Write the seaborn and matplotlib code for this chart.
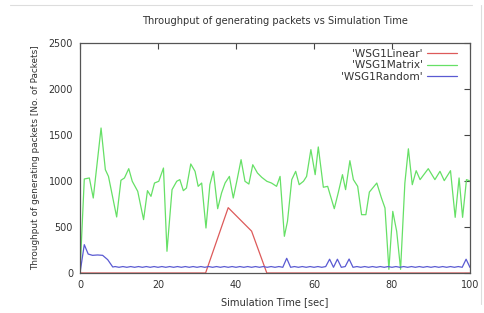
import numpy as np
import pandas as pd
import matplotlib
matplotlib.use("Agg")
import matplotlib.pyplot as plt
import seaborn as sns
from matplotlib.lines import Line2D

title = "Throughput of generating packets vs Simulation Time"
xlabel = "Simulation Time [sec]"
ylabel = "Throughput of generating packets [No. of Packets]"
xticks = [0, 20, 40, 60, 80, 100]
yticks = [0, 500, 1000, 1500, 2000, 2500]

linear_t = [0, 32.2, 38.0, 44.0, 47.9, 100]
linear_v = [0, 0, 710, 455, 0, 0]

matrix_t = [0, 1.1, 2.4, 3.4, 5.4, 6.5, 7.3, 9.4, 10.5, 11.4, 12.5, 13.4, 14.8, 16.3,
            17.3, 18.2, 19.1, 20.2, 21.4, 22.3, 23.6, 24.8, 25.6, 26.5, 27.3, 28.4,
            29.5, 30.3, 31.2, 32.3, 33.3, 34.2, 35.3, 36.3, 37.2, 38.3, 39.3, 40.2,
            41.3, 42.3, 43.3, 44.3, 45.5, 46.6, 47.9, 49.1, 50.4, 51.3, 52.4, 53.2,
            54.3, 55.3, 56.2, 57.3, 58.1, 59.2, 60.3, 61.1, 62.4, 63.5, 65.2, 66.2,
            67.3, 68.1, 69.2, 70.1, 71.2, 72.2, 73.3, 74.2, 76.1, 77.3, 78.2, 79.2,
            80.2, 81.2, 82.2, 83.3, 84.2, 85.2, 86.2, 87.2, 89.3, 91.0, 92.3, 93.4,
            95.0, 96.2, 97.2, 98.1, 99.1, 100]
matrix_v = [0, 1022, 1033, 815, 1576, 1123, 1050, 609, 1008, 1033, 1134, 997, 888, 580,
            895, 833, 978, 997, 1141, 236, 906, 997, 1015, 895, 924, 1185,
            1105, 942, 978, 489, 960, 1105, 699, 870, 978, 1050, 815, 997,
            1232, 997, 967, 1177, 1087, 1040, 997, 978, 942, 1050, 399, 562,
            1015, 1105, 960, 997, 1050, 1341, 1069, 1370, 932, 942, 699, 870,
            1069, 906, 1221, 1015, 942, 634, 634, 880, 978, 815, 707, 40,
            670, 453, 40, 978, 1350, 960, 1112, 1015, 1134, 1015, 1105, 1004,
            1112, 605, 1033, 605, 1015, 1000]

random_t = [0, 1.1, 2.1, 3.2, 4.5, 5.8, 7.1, 8.4,
            9, 10, 11, 12, 13, 14, 15, 16, 17, 18, 19, 20, 21, 22, 23, 24, 25, 26,
            27, 28, 29, 30, 31, 32, 33, 34, 35, 36, 37, 38, 39, 40, 41, 42, 43, 44,
            45, 46, 47, 48, 49, 50, 51, 52, 53, 54, 55, 56, 57, 58, 59, 60, 61, 62,
            63, 64, 65, 66, 67, 68, 69, 70, 71, 72, 73, 74, 75, 76, 77, 78, 79, 80,
            81, 82, 83, 84, 85, 86, 87, 88, 89, 90, 91, 92, 93, 94, 95, 96, 97, 98,
            99, 100]
random_v = [0, 308, 206, 192, 196, 192, 145, 65,
            70, 62, 70, 62, 70, 62, 70, 62, 70, 62, 70, 62, 70, 62, 70, 62, 70, 62,
            70, 62, 70, 62, 70, 62, 70, 62, 70, 62, 70, 62, 70, 62, 70, 62, 70, 62,
            70, 62, 70, 62, 70, 62, 70, 62, 160, 62, 70, 62, 70, 62, 70, 62, 70, 62,
            70, 150, 62, 150, 62, 70, 152, 62, 70, 62, 70, 62, 70, 62, 70, 62, 70, 62,
            70, 62, 70, 62, 70, 62, 70, 62, 70, 62, 70, 62, 70, 62, 70, 62, 70, 62,
            150, 60]

series_names = ["'WSG1Linear'", "'WSG1Matrix'", "'WSG1Random'"]
colors = ["#dd5a5a", "#66e066", "#5a5ad2"]

df = pd.concat([
    pd.DataFrame({"t": linear_t, "v": linear_v, "s": series_names[0]}),
    pd.DataFrame({"t": matrix_t, "v": matrix_v, "s": series_names[1]}),
    pd.DataFrame({"t": random_t, "v": random_v, "s": series_names[2]}),
], ignore_index=True)

sns.set_style("white")
plt.rcParams["font.family"] = ["DejaVu Sans"]

W, H = 485, 313
fig = plt.figure(figsize=(W / 100, H / 100), dpi=100)
ax = fig.add_axes([80 / W, 1 - 273 / H, 390 / W, 230 / H])

sns.lineplot(data=df, x="t", y="v", hue="s", palette=dict(zip(series_names, colors)),
             estimator=None, sort=False, linewidth=0.9, ax=ax, legend=False)

ax.set_xlim(0, 100)
ax.set_ylim(0, 2500)
ax.set_xticks(xticks)
ax.set_yticks(yticks)
ax.set_xticklabels([str(v) for v in xticks])
ax.set_yticklabels([str(v) for v in yticks])
ax.tick_params(direction="in", length=4, width=0.8, color="#444444", labelsize=6.9,
               labelcolor="#333333", top=True, right=True, pad=5)
for sp in ax.spines.values():
    sp.set_color("#555555")
    sp.set_linewidth(0.9)
ax.set_xlabel(xlabel, fontsize=7.1, color="#333333", labelpad=5)
ax.set_ylabel(ylabel, fontsize=6.4, color="#333333", labelpad=6)

handles = [Line2D([0], [0], color=c, lw=0.9) for c in colors]
leg = ax.legend(handles, series_names, loc="upper right", bbox_to_anchor=(0.967, 0.975),
                frameon=False, markerfirst=False, fontsize=7.6, handlelength=2.9,
                handletextpad=0.35, labelspacing=0.15, borderaxespad=0, borderpad=0)
for txt in leg.get_texts():
    txt.set_color("#333333")

fig.text(275 / W, 1 - 21 / H, title, ha="center", va="center", fontsize=7.1, color="#333333")

# screenshot border lines
fig.add_artist(Line2D([10 / W, 472 / W], [1 - 5 / H, 1 - 5 / H], color="#dddddd", lw=0.8))
fig.add_artist(Line2D([481 / W, 481 / W], [0.03, 1 - 5 / H], color="#dddddd", lw=0.8))

fig.savefig("out.png", dpi=100)
